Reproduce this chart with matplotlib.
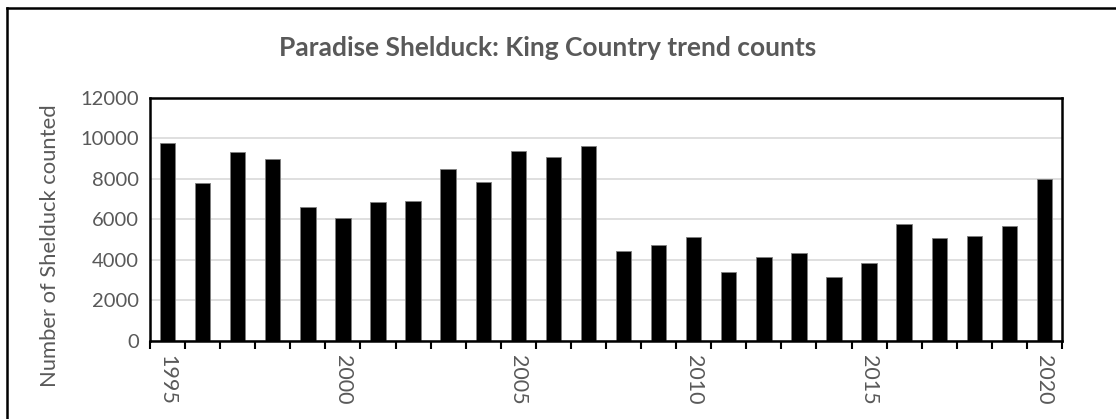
import numpy as np
import matplotlib.pyplot as plt
from matplotlib.lines import Line2D

years = list(range(1995, 2021))
counts = [9750, 7790, 9320, 8980, 6610, 6080, 6860, 6890, 8470, 7830,
          9350, 9090, 9620, 4460, 4730, 5150, 3400, 4130, 4360, 3140,
          3860, 5770, 5060, 5160, 5690, 7970]
label_years = [1995, 2000, 2005, 2010, 2015, 2020]

plt.rcParams['font.family'] = ['Lato', 'DejaVu Sans']
grey = '#595959'

fig = plt.figure(figsize=(11.16, 4.19), dpi=100)
ax = fig.add_axes([150 / 1116, 78 / 419, 912 / 1116, 243.3 / 419])

# chart area border (left and top edges visible only)
bx, by = 6.5 / 1116, 410.5 / 419
fig.lines.append(Line2D([bx, bx], [0, by], transform=fig.transFigure,
                        color='black', linewidth=1.8))
fig.lines.append(Line2D([bx, 1], [by, by], transform=fig.transFigure,
                        color='black', linewidth=1.8))

ax.bar(years, counts, width=0.44, color='black', edgecolor='#7f7f7f',
       linewidth=0.6, zorder=3)

ax.set_xlim(1994.5, 2020.5)
ax.set_ylim(0, 12000)
ax.set_yticks(np.arange(0, 12001, 2000))
ax.grid(axis='y', color='#d9d9d9', linewidth=1.2, zorder=0)

ax.set_xticks(label_years)
ax.set_xticklabels([str(y) for y in label_years], rotation=-90,
                   color=grey, fontsize=15.5)
ax.set_xticks(np.arange(1994.5, 2021, 1), minor=True)
ax.tick_params(axis='x', which='major', length=0, pad=10)
ax.tick_params(axis='x', which='minor', length=6, width=1.5, direction='out')
ax.tick_params(axis='y', length=0, labelsize=14.5, labelcolor=grey, pad=8)

for s in ax.spines.values():
    s.set_linewidth(1.8)
    s.set_color('black')
    s.set_zorder(4)

ax.set_ylabel('Number of Shelduck counted', fontsize=15.8, color=grey)
ax.yaxis.set_label_coords(-0.099, 0.39)

fig.text(548 / 1116, 1 - 48 / 419, 'Paradise Shelduck: King Country trend counts',
         ha='center', va='center', fontsize=19, fontweight='bold', color=grey)

fig.savefig('out.png', dpi=100)
